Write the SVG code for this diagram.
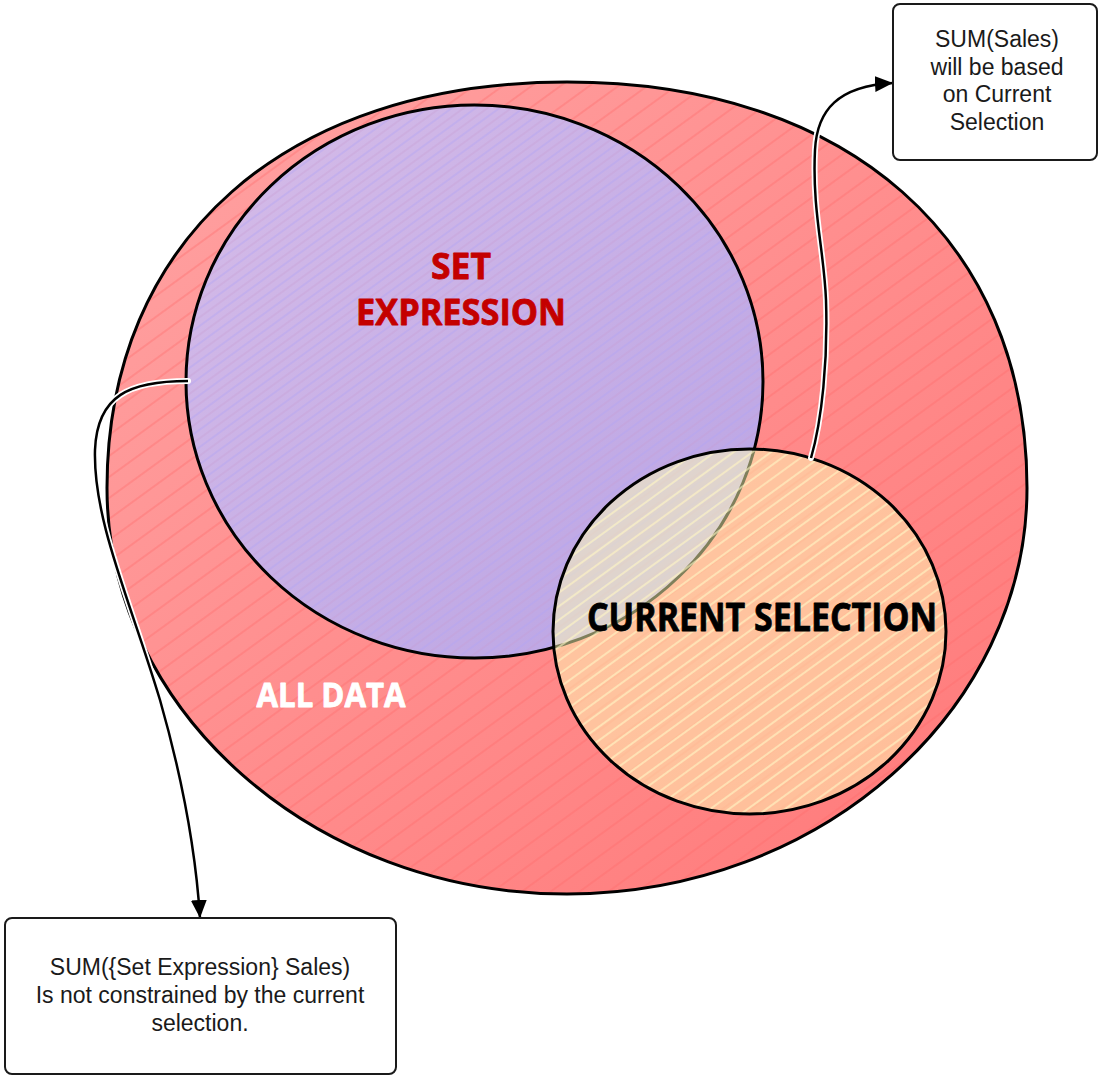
<svg xmlns="http://www.w3.org/2000/svg" width="1102" height="1078" viewBox="0 0 1102 1078">
  <style>
    .outline { fill: none; stroke: #000; stroke-width: 3; }
    .box { fill: #fff; stroke: #1a1a1a; stroke-width: 2; }
    .note { font-family: "Liberation Sans", Arial, sans-serif; font-size: 23px; fill: #1a1a1a; text-anchor: middle; }
    .hand { font-family: "Open Sans", "Liberation Sans", sans-serif; font-weight: bold; stroke-linejoin: round; }
    .halo { fill: none; stroke: #fff; stroke-width: 6; stroke-linecap: round; }
    .wire { fill: none; stroke: #000; stroke-width: 2.5; }
  </style>
  <defs>
    <linearGradient id="gradAll" x1="0" y1="0" x2="1" y2="1">
      <stop offset="0" stop-color="#ffa3a3"/>
      <stop offset="1" stop-color="#ff7878"/>
    </linearGradient>
    <linearGradient id="gradSet" x1="0" y1="0" x2="1" y2="1">
      <stop offset="0" stop-color="#d6bce8"/>
      <stop offset="1" stop-color="#b9a3e4"/>
    </linearGradient>
    <pattern id="hatchAll" width="17" height="17" patternUnits="userSpaceOnUse" patternTransform="rotate(-36)">
      <line x1="0" y1="8" x2="17" y2="8" stroke="#ff6a6a" stroke-width="1.3" stroke-opacity="0.55"/>
    </pattern>
    <pattern id="hatchSet" width="14" height="14" patternUnits="userSpaceOnUse" patternTransform="rotate(-36)">
      <line x1="0" y1="3" x2="14" y2="3" stroke="#b4a6f4" stroke-width="1.2" stroke-opacity="0.7"/>
      <line x1="0" y1="10" x2="14" y2="10" stroke="#c79cd0" stroke-width="1.2" stroke-opacity="0.5"/>
    </pattern>
    <pattern id="hatchSel" width="11" height="11" patternUnits="userSpaceOnUse" patternTransform="rotate(-36)">
      <line x1="0" y1="5" x2="11" y2="5" stroke="#fff6c4" stroke-width="1.6" stroke-opacity="0.75"/>
    </pattern>
    <marker id="arrow" markerWidth="20" markerHeight="16" refX="18" refY="8" orient="auto" markerUnits="userSpaceOnUse">
      <path d="M0,0 L18,8 L0,16 Z" fill="#000"/>
    </marker>
    <!-- outer region outline: fuller at the top, rounder at the bottom -->
    <path id="allShape" d="M 1027 488 C 1027 240, 848 82, 567 82 C 286 82, 107 240, 107 488 C 107 711, 314 894, 567 894 C 820 894, 1027 711, 1027 488 Z"/>
  </defs>

  <!-- outer region: all data -->
  <g id="all-data">
    <use href="#allShape" fill="url(#gradAll)"/>
    <use href="#allShape" fill="url(#hatchAll)"/>
    <use href="#allShape" class="outline"/>
    <text class="hand" x="331" y="707" font-size="34" fill="#fff" stroke="#fff" stroke-width="0.8" text-anchor="middle" textLength="149" lengthAdjust="spacingAndGlyphs">ALL DATA</text>
  </g>

  <!-- set expression -->
  <g id="set-expression">
    <ellipse cx="474.5" cy="381.5" rx="288.5" ry="276.5" fill="url(#gradSet)"/>
    <ellipse cx="474.5" cy="381.5" rx="288.5" ry="276.5" fill="url(#hatchSet)"/>
    <ellipse class="outline" cx="474.5" cy="381.5" rx="288.5" ry="276.5"/>
    <text class="hand" x="461" y="279" font-size="36" fill="#c40000" stroke="#c40000" stroke-width="0.8" text-anchor="middle" textLength="60" lengthAdjust="spacingAndGlyphs">SET</text>
    <text class="hand" x="461" y="325" font-size="36" fill="#c40000" stroke="#c40000" stroke-width="0.8" text-anchor="middle" textLength="210" lengthAdjust="spacingAndGlyphs">EXPRESSION</text>
  </g>

  <!-- current selection, translucent so the overlap shows -->
  <g id="current-selection">
    <ellipse cx="749.5" cy="631.5" rx="196.5" ry="182.5" fill="#ffffb5" fill-opacity="0.5"/>
    <ellipse cx="749.5" cy="631.5" rx="196.5" ry="182.5" fill="url(#hatchSel)"/>
    <ellipse class="outline" cx="749.5" cy="631.5" rx="196.5" ry="182.5"/>
    <text class="hand" x="762" y="631" font-size="39" fill="#000" stroke="#000" stroke-width="0.8" text-anchor="middle" textLength="350" lengthAdjust="spacingAndGlyphs">CURRENT SELECTION</text>
  </g>

  <!-- connectors -->
  <g id="connectors">
    <path class="halo" d="M 811 458 C 822 420, 828 360, 826 300 C 824 250, 812 210, 815 150 C 817 110, 838 86, 878 83"/>
    <path class="wire" d="M 811 458 C 822 420, 828 360, 826 300 C 824 250, 812 210, 815 150 C 817 110, 838 86, 893 83" marker-end="url(#arrow)"/>
    <path class="halo" d="M 188 381 C 130 381, 97 395, 95 450 C 93 520, 130 600, 160 700 C 180 770, 195 840, 199 900"/>
    <path class="wire" d="M 188 381 C 130 381, 97 395, 95 450 C 93 520, 130 600, 160 700 C 180 770, 195 840, 200 918" marker-end="url(#arrow)"/>
  </g>

  <!-- note: current selection -->
  <g id="note-selection">
    <rect class="box" x="893" y="4" width="204" height="156" rx="7"/>
    <text class="note" x="997" y="47">SUM(Sales)</text>
    <text class="note" x="997" y="75">will be based</text>
    <text class="note" x="997" y="102">on Current</text>
    <text class="note" x="997" y="130">Selection</text>
  </g>

  <!-- note: set expression -->
  <g id="note-set">
    <rect class="box" x="5" y="918" width="391" height="156" rx="7"/>
    <text class="note" x="200" y="975">SUM({Set Expression} Sales)</text>
    <text class="note" x="200" y="1003">Is not constrained by the current</text>
    <text class="note" x="200" y="1031">selection.</text>
  </g>
</svg>
